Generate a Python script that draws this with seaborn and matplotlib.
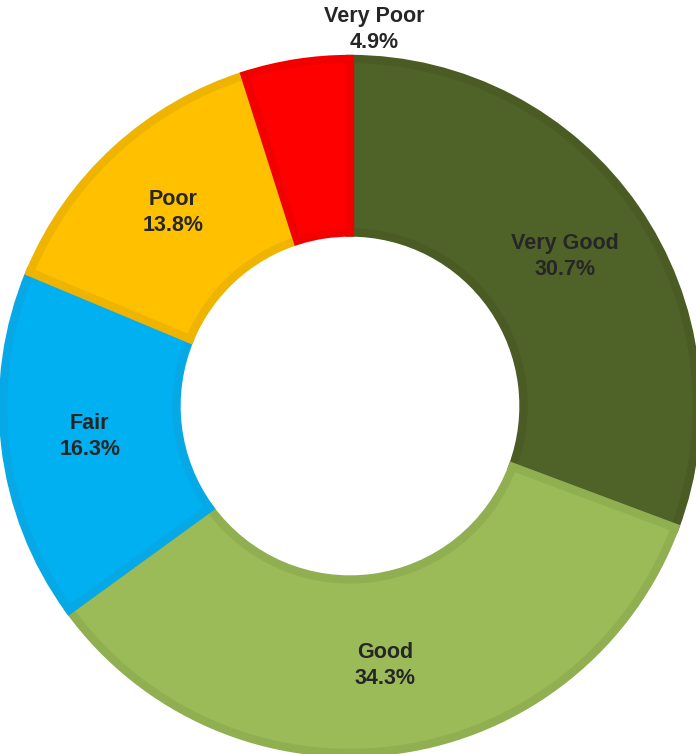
import matplotlib
matplotlib.use("Agg")
import matplotlib.pyplot as plt
import numpy as np
import seaborn as sns

sns.set_style("white")
plt.rcParams["font.family"] = ["Liberation Sans", "DejaVu Sans"]

categories = ["Very Good", "Good", "Fair", "Poor", "Very Poor"]
shares = [30.7, 34.3, 16.3, 13.8, 4.9]
fill_colors = ["#4F6228", "#9BBB59", "#00B0F0", "#FFC000", "#FF0000"]
edge_colors = ["#4A5C23", "#90AF50", "#06A8E6", "#EFB400", "#F20000"]

fig = plt.figure(figsize=(6.96, 7.54), dpi=100)
ax = fig.add_axes([0, 0, 1, 1])

palette = sns.color_palette(fill_colors)
wedges, _ = ax.pie(
    shares,
    colors=palette,
    startangle=90,
    counterclock=False,
    radius=1.0,
    wedgeprops=dict(width=0.5, linewidth=0),
)

# darker inner outline on each ring segment
for w, ec in zip(wedges, edge_colors):
    w.set_edgecolor(ec)
    w.set_linewidth(6)
    w.set_clip_path(w)

# labels inside the ring, except the thin slice which is labelled above
total = sum(shares)
start = 90.0
style = dict(ha="center", va="center", fontsize=15.5, weight="bold",
             color="#262626", linespacing=1.3)
for name, val in zip(categories, shares):
    mid = np.deg2rad(start - val / total * 360 / 2)
    start -= val / total * 360
    text = f"{name}\n{val:.1f}%"
    if name == "Very Poor":
        ax.text(0.07, 1.086, text, **style)
    else:
        r = 0.755
        ax.text(r * np.cos(mid), r * np.sin(mid), text, **style)

# one data unit = 347 px, ring centred at pixel (350, 406)
px = 347.0
ax.set_xlim(-350 / px, (696 - 350) / px)
ax.set_ylim(-(754 - 406) / px, 406 / px)
ax.set_aspect("auto")
ax.axis("off")

fig.savefig("out.png", dpi=100, facecolor="white")
